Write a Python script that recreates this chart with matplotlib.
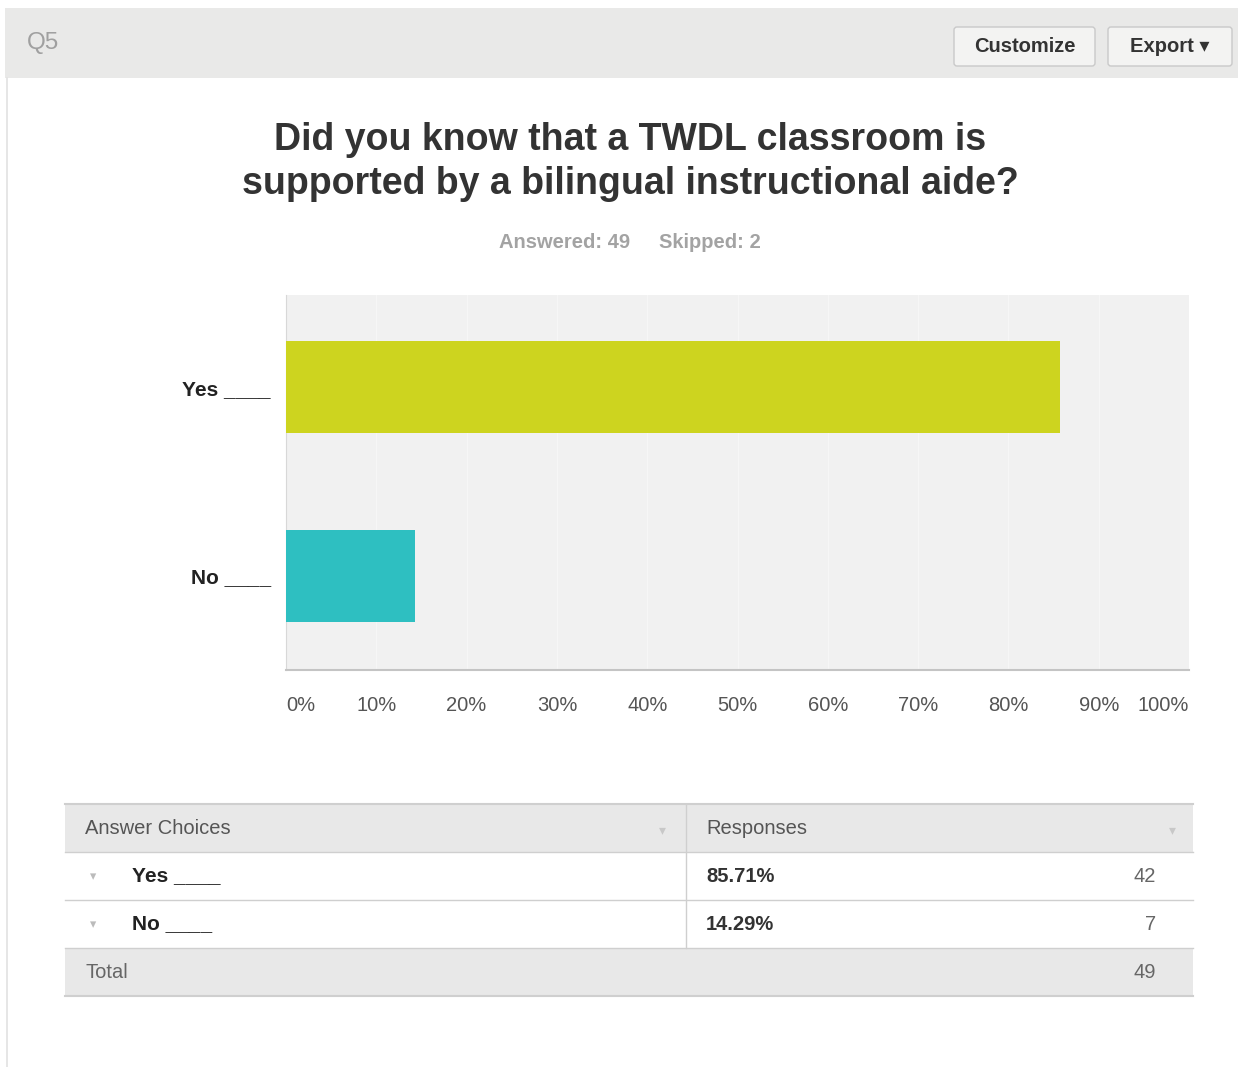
"""
plot.py
-------
SurveyMonkey-style summary for Q5: horizontal bar chart of answer shares
plus the response table underneath.
"""

import matplotlib
matplotlib.use("Agg")
import matplotlib.pyplot as plt
from matplotlib.patches import Rectangle, FancyBboxPatch

# ── Data ───────────────────────────────────────────────────────────────────────
QUESTION    = "Q5"
TITLE_LINES = ["Did you know that a TWDL classroom is",
               "supported by a bilingual instructional aide?"]
CHOICES     = ["Yes ____", "No ____"]
PERCENTS    = [85.71, 14.29]
COUNTS      = [42, 7]
ANSWERED    = 49
SKIPPED     = 2
X_TICKS     = [0, 10, 20, 30, 40, 50, 60, 70, 80, 90, 100]

BAR_COLORS = ["#cdd41f", "#2ebfc1"]
FONT       = ["Liberation Sans", "DejaVu Sans"]

W, H = 1238, 1067

plt.rcParams["font.family"] = FONT


def main():
    fig = plt.figure(figsize=(W / 100, H / 100), dpi=100)
    fig.patch.set_facecolor("white")

    # background layer in pixel coordinates (y grows downwards)
    bg = fig.add_axes([0, 0, 1, 1], zorder=0)
    bg.set_xlim(0, W)
    bg.set_ylim(H, 0)
    bg.set_axis_off()

    # ── header bar ────────────────────────────────────────────────────────────
    bg.add_patch(Rectangle((5, 8), W - 5, 70, fc="#e9e9e8", ec="none"))
    bg.plot([7, 7], [78, H], color="#e2e2e2", lw=1.2)
    bg.text(27, 43, QUESTION, fontsize=17.5, color="#a0a0a0", va="center", ha="left")
    for x0, x1, label in [(954, 1095, "Customize"), (1108, 1232, "Export \u25be")]:
        bg.add_patch(FancyBboxPatch((x0, 27), x1 - x0, 39,
                                    boxstyle="round,pad=0,rounding_size=3",
                                    fc="#f3f3f2", ec="#c9c9c9", lw=1))
        bg.text((x0 + x1) / 2, 47, label, fontsize=14.5, fontweight="bold",
                color="#333333", ha="center", va="center")

    # ── title ─────────────────────────────────────────────────────────────────
    for k, line in enumerate(TITLE_LINES):
        bg.text(630, 140 + 44 * k, line, fontsize=27, fontweight="bold",
                color="#333333", ha="center", va="center")
    bg.text(565, 242, f"Answered: {ANSWERED}", fontsize=14.5, fontweight="bold",
            color="#a3a3a3", ha="center", va="center")
    bg.text(710, 242, f"Skipped: {SKIPPED}", fontsize=14.5, fontweight="bold",
            color="#a3a3a3", ha="center", va="center")

    # ── bar chart ─────────────────────────────────────────────────────────────
    left, right, top, bottom = 286, 1189, 295, 670
    ax = fig.add_axes([left / W, 1 - bottom / H, (right - left) / W, (bottom - top) / H],
                      zorder=2)
    ax.set_facecolor("#f1f1f1")
    ypos = list(range(len(CHOICES)))
    ax.barh(ypos, PERCENTS, height=0.487, color=BAR_COLORS, zorder=3)
    ax.set_xlim(0, 100)
    ax.set_ylim(1.5, -0.49)

    ax.set_xticks(X_TICKS)
    ax.set_xticklabels([f"{t}%" for t in X_TICKS], fontsize=14.5, color="#555555")
    xt = ax.get_xticklabels()
    xt[0].set_ha("left")
    xt[-1].set_ha("right")
    ax.tick_params(axis="x", length=0, pad=19)
    ax.grid(axis="x", color="#f6f6f6", lw=1, zorder=1)

    ax.set_yticks(ypos)
    ax.set_yticklabels(CHOICES, fontsize=15, fontweight="bold", color="#222222")
    ax.tick_params(axis="y", length=0, pad=11)

    for side in ["top", "right"]:
        ax.spines[side].set_visible(False)
    ax.spines["left"].set_color("#d8d8d8")
    ax.spines["bottom"].set_color("#c4c4c4")
    ax.spines["bottom"].set_linewidth(1.5)

    # ── response table ────────────────────────────────────────────────────────
    tx0, tx1, tdiv = 65, 1193, 686
    row_h = 48
    ty = 804
    bg.add_patch(Rectangle((tx0, ty), tx1 - tx0, row_h, fc="#e8e8e8", ec="none"))
    bg.text(85, ty + row_h / 2, "Answer Choices", fontsize=14.5, color="#555555",
            va="center")
    bg.text(706, ty + row_h / 2, "Responses", fontsize=14.5, color="#555555",
            va="center")
    bg.text(662, ty + row_h / 2 + 2, "\u25be", fontsize=10, color="#c8c8c8",
            ha="center", va="center")
    bg.text(1172, ty + row_h / 2 + 2, "\u25be", fontsize=10, color="#c8c8c8",
            ha="center", va="center")

    for i, (choice, pct, n) in enumerate(zip(CHOICES, PERCENTS, COUNTS)):
        yc = ty + row_h * (i + 1) + row_h / 2
        bg.text(93, yc + 1, "\u25be", fontsize=9, color="#bbbbbb", ha="center",
                va="center")
        bg.text(132, yc, choice, fontsize=15, fontweight="bold", color="#222222",
                va="center")
        bg.text(706, yc, f"{pct:.2f}%", fontsize=14.5, fontweight="bold",
                color="#333333", va="center")
        bg.text(1156, yc, str(n), fontsize=14.5, color="#666666", ha="right",
                va="center")

    ytot = ty + row_h * 3
    bg.add_patch(Rectangle((tx0, ytot), tx1 - tx0, row_h, fc="#e8e8e8", ec="none"))
    bg.text(85, ytot + row_h / 2, "Total", fontsize=14.5, color="#666666", va="center")
    bg.text(1156, ytot + row_h / 2, str(sum(COUNTS)), fontsize=14.5, color="#666666",
            ha="right", va="center")

    for k in range(5):
        yy = ty + row_h * k
        bg.plot([tx0, tx1], [yy, yy], color="#cfcfcf", lw=1.5 if k in (0, 4) else 1)
    bg.plot([tdiv, tdiv], [ty, ytot], color="#cfcfcf", lw=1)

    fig.savefig("out.png", dpi=100)
    plt.close(fig)


if __name__ == "__main__":
    main()
